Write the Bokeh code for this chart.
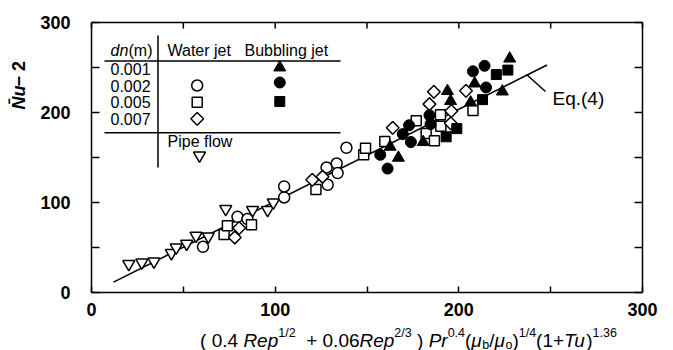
from math import pi
from bokeh.plotting import figure
from bokeh.models import Range1d, FixedTicker
from bokeh.core.properties import value
from bokeh.embed import file_html
from bokeh.resources import INLINE

# ---------------- data ----------------
pipe_x = [20.3, 27.4, 34.0, 43.5, 46.1, 51.8, 56.9, 63.6, 73.1, 87.7, 95.9, 99.0]
pipe_y = [31.6, 33.3, 34.4, 43.8, 50.0, 54.1, 63.0, 62.4, 92.7, 91.6, 91.6, 100.0]

water2_x = [60.7, 79.5, 84.9, 104.9, 104.9, 128.6, 128.0, 133.5, 134.0, 138.8]
water2_y = [50.8, 84.1, 81.6, 105.6, 117.8, 119.7, 138.9, 143.3, 132.7, 160.8]

water5_x = [72.2, 74.0, 87.1, 122.2, 148.2, 149.2, 159.7, 176.8, 182.2, 186.7, 190.0, 190.2, 207.7]
water5_y = [64.4, 74.1, 75.2, 114.4, 153.0, 160.4, 167.8, 190.8, 176.7, 168.6, 197.4, 184.7, 202.2]

water7_x = [78.0, 80.4, 120.2, 125.8, 164.0, 184.0, 186.4, 195.9, 195.6, 203.9]
water7_y = [61.1, 71.6, 125.2, 128.6, 183.0, 209.3, 223.0, 201.6, 188.0, 224.1]

bub1_x = [162.6, 167.1, 180.6, 193.8, 195.5, 206.4, 208.6, 223.7, 227.7]
bub1_y = [161.9, 149.7, 167.1, 223.8, 212.7, 211.1, 232.2, 223.3, 259.9]

bub2_x = [157.2, 161.2, 169.5, 173.9, 172.9, 184.6, 184.0, 207.7, 214.0, 214.8]
bub2_y = [153.0, 137.7, 176.0, 167.2, 185.8, 187.1, 196.9, 245.8, 251.9, 227.8]

bub5_x = [193.1, 198.9, 212.9, 220.4, 226.7]
bub5_y = [173.0, 182.1, 214.3, 242.2, 247.1]

eq_x = [12.0, 248.0]
eq_y = [11.5, 252.7]

x_ticks = [0, 100, 200, 300]
y_ticks = [0, 100, 200, 300]
minor = [50, 150, 250]
x_lim = (0, 300)
y_lim = (0, 300)

dn_labels = ["0.001", "0.002", "0.005", "0.007"]

# ---------------- layout constants (canvas pixels) ----------------
W, H = 673, 350
L, R, T, B = 91, 31, 22, 58      # where the 0..300 box sits in the canvas
FW, FH = W - L - R, H - T - B
FONT = "Liberation Sans"


def px2x(px):
    return x_lim[0] + (px - L) / FW * (x_lim[1] - x_lim[0])


def py2y(py):
    return y_lim[0] + (T + FH - py) / FH * (y_lim[1] - y_lim[0])


def dx(npx):
    return npx / FW * (x_lim[1] - x_lim[0])


def dy(npx):
    return npx / FH * (y_lim[1] - y_lim[0])


# the frame covers the whole canvas; the axes are pinned at x=0 / y=0
p = figure(width=W, height=H,
           x_range=Range1d(px2x(0), px2x(W)), y_range=Range1d(py2y(H), py2y(0)),
           output_backend="svg", toolbar_location=None,
           min_border=0, min_border_left=0, min_border_right=0,
           min_border_top=0, min_border_bottom=0)
p.xgrid.visible = False
p.ygrid.visible = False
p.outline_line_color = None
p.background_fill_color = "white"
p.border_fill_color = "white"


def style_axis(ax, ticks, tick_len, bounds):
    ax.ticker = FixedTicker(ticks=ticks, minor_ticks=minor)
    ax.bounds = bounds
    ax.axis_line_color = "black"
    ax.axis_line_width = 1.5
    ax.major_tick_in = tick_len
    ax.major_tick_out = 0
    ax.minor_tick_in = tick_len
    ax.minor_tick_out = 0
    ax.major_tick_line_width = 1.5
    ax.minor_tick_line_width = 1.5
    ax.major_tick_line_color = "black"
    ax.minor_tick_line_color = "black"
    ax.major_label_text_font = FONT
    ax.major_label_text_font_size = "18px"
    ax.major_label_text_font_style = "bold"
    ax.major_label_text_color = "black"


xa, ya = p.xaxis[0], p.yaxis[0]
style_axis(xa, x_ticks, 6, x_lim)
xa.fixed_location = y_lim[0]
xa.major_label_standoff = 10
style_axis(ya, y_ticks, 8, y_lim)
ya.fixed_location = x_lim[0]
ya.major_label_standoff = 21

# top and right sides of the box, with inward ticks
p.line([x_lim[0], x_lim[1], x_lim[1]], [y_lim[1], y_lim[1], y_lim[0]],
       line_color="black", line_width=1.5)
all_x = sorted(x_ticks + minor)
all_y = sorted(y_ticks + minor)
p.segment(x0=all_x, y0=[y_lim[1]] * len(all_x), x1=all_x, y1=[y_lim[1] - dy(6)] * len(all_x),
          line_color="black", line_width=1.5)
p.segment(x0=[x_lim[1]] * len(all_y), y0=all_y, x1=[x_lim[1] - dx(8)] * len(all_y), y1=all_y,
          line_color="black", line_width=1.5)

# ---------------- Eq.(4) line and data ----------------
p.line(eq_x, eq_y, line_color="black", line_width=1.6)

hollow = dict(fill_color="white", line_color="black", line_width=1.5)
solid = dict(fill_color="black", line_color="black", line_width=1.0)
diam = dict(marker="square", angle=pi / 4, size=9)

p.scatter(pipe_x, pipe_y, marker="inverted_triangle", size=12, **hollow)
p.scatter(water2_x, water2_y, marker="circle", size=11, **hollow)
p.scatter(water5_x, water5_y, marker="square", size=10, **hollow)
p.scatter(water7_x, water7_y, **diam, **hollow)
p.scatter(bub1_x, bub1_y, marker="triangle", size=12, **solid)
p.scatter(bub2_x, bub2_y, marker="circle", size=11, **solid)
p.scatter(bub5_x, bub5_y, marker="square", size=10, **solid)


def label(px, py, text, size=16, style="normal", align="left", baseline="middle", angle=0.0):
    p.text(x=[px2x(px)], y=[py2y(py)], text=[text], text_font=value(FONT),
           text_font_size=value(f"{size}px"), text_font_style=value(style),
           text_align=value(align), text_baseline=value(baseline), angle=angle,
           text_color="black")


# Eq.(4) leader and label
p.line([px2x(526), px2x(545)], [py2y(74), py2y(91)], line_color="black", line_width=1.5)
label(552, 98, "Eq.(4)", size=19)

# ---------------- legend table ----------------
p.line([px2x(104), px2x(340)], [py2y(60.5), py2y(60.5)], line_color="black", line_width=1.5)
p.line([px2x(104), px2x(340)], [py2y(132.3), py2y(132.3)], line_color="black", line_width=1.5)
p.line([px2x(157.5), px2x(157.5)], [py2y(35), py2y(167)], line_color="black", line_width=1.5)

label(110, 50, "dn", style="italic")
label(128, 50, "(m)")
label(167, 50, "Water jet")
label(244, 50, "Bubbling jet")
for txt, yy in zip(dn_labels, [68.3, 85.5, 101.7, 118.3]):
    label(110, yy, txt)
label(167, 141, "Pipe flow")

leg_wx, leg_bx = px2x(196.7), px2x(279.3)
p.scatter([leg_wx], [py2y(85)], marker="circle", size=11, **hollow)
p.scatter([leg_wx], [py2y(101.7)], marker="square", size=10, **hollow)
p.scatter([leg_wx], [py2y(118.3)], **diam, **hollow)
p.scatter([leg_bx], [py2y(67)], marker="triangle", size=12, **solid)
p.scatter([leg_bx], [py2y(82)], marker="circle", size=11, **solid)
p.scatter([leg_bx], [py2y(101)], marker="square", size=10, **solid)
p.scatter([px2x(199)], [py2y(155)], marker="inverted_triangle", size=12, **hollow)

# ---------------- y axis title (rotated) ----------------
label(18, 109, "N\u0304u", size=18, style="bold italic", angle=pi / 2)
label(18, 86, "\u2212 2", size=18, style="bold", angle=pi / 2)

# ---------------- x axis title with super/subscripts ----------------
CW = {' ': 0.278, '(': 0.333, ')': 0.333, '.': 0.278, '+': 0.584, '/': 0.278,
      'R': 0.722, 'e': 0.556, 'p': 0.556, 'P': 0.667, 'r': 0.333, 'T': 0.611,
      'u': 0.556, '\u03bc': 0.576, 'b': 0.556, 'o': 0.556}


def tw(s, size):
    return sum(CW.get(c, 0.556) for c in s) * size


MAIN, SUP = 19, 12.5
segs = [("( ", "normal", "n"), ("0.4 ", "normal", "n"), ("Rep", "italic", "n"),
        ("1/2", "normal", "sup"), ("  + 0.06", "normal", "n"), ("Rep", "italic", "n"),
        ("2/3", "normal", "sup"), (" ) ", "normal", "n"), ("Pr", "italic", "n"),
        ("0.4", "normal", "sup"), ("(", "normal", "n"), ("\u03bc", "italic", "n"),
        ("b", "normal", "sub"), ("/", "normal", "n"), ("\u03bc", "italic", "n"),
        ("o", "normal", "sub"), (")", "normal", "n"), ("1/4", "normal", "sup"),
        ("(1+", "normal", "n"), ("Tu", "italic", "n"), (")", "normal", "n"),
        ("1.36", "normal", "sup")]
sizes = {"n": MAIN, "sup": SUP, "sub": SUP}
dys = {"n": 0, "sup": -8, "sub": 4}
total = sum(tw(t, sizes[k]) for t, _, k in segs)
cx, base = 408, 340
xx = cx - total / 2
for t, st, k in segs:
    sz = sizes[k]
    lead = len(t) - len(t.lstrip(" "))
    core = t.strip(" ")
    label(xx + tw(" " * lead, sz), base + dys[k], core, size=sz, style=st, baseline="alphabetic")
    xx += tw(t, sz)

open("out.html", "w").write(file_html(p, INLINE))
